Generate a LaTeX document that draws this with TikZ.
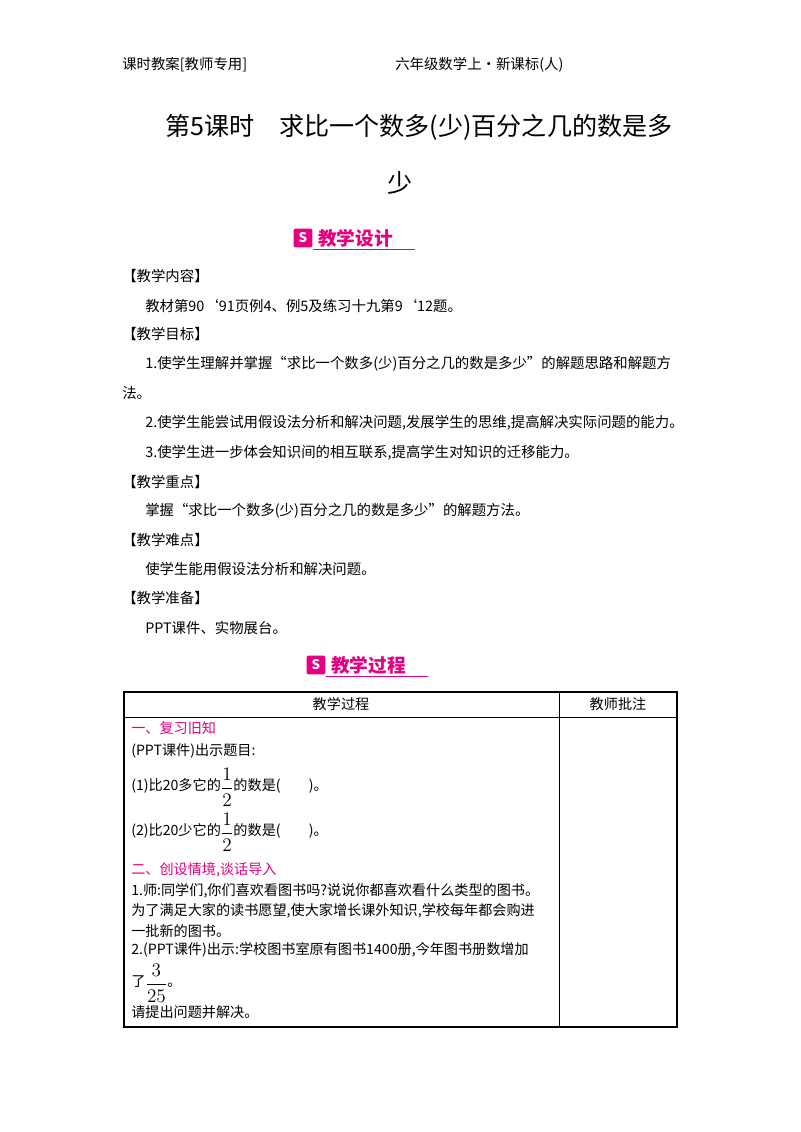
\documentclass[tikz,border=0pt]{standalone}
\usepackage{fontspec}
\setmainfont{Noto Sans CJK SC}
\definecolor{mag}{HTML}{E4007F}
\newcommand{\bigfr}[2]{$\vcenter{\hbox{\fontsize{14}{16}\selectfont$\displaystyle\frac{#1}{#2}$}}$}
\begin{document}
\begin{tikzpicture}[x=0.75pt,y=-0.75pt,
 t/.style={anchor=west,inner sep=0pt,font=\fontsize{10.8}{13}\selectfont},
 s/.style={anchor=west,inner sep=0pt,font=\fontsize{10.6}{12}\selectfont},
 m/.style={s,text=mag},
 ban/.style={anchor=west,inner sep=0pt,font=\fontsize{14}{16}\selectfont\bfseries,text=mag}]
\useasboundingbox[fill=white] (0,0) rectangle (800,1132);
\node[t] (h1) at (122,65) {课时教案[教师专用]};
\node[t] (h2) at (395,65) {六年级数学上·新课标(人)};
\node[anchor=west,inner sep=0pt,font=\fontsize{18.8}{20}\selectfont] (ti) at (165,127) {第5课时\quad 求比一个数多(少)百分之几的数是多};
\node[inner sep=0pt,font=\fontsize{18.8}{20}\selectfont] (ti2) at (400,183) {少};
% banner 1
\node[fill=mag,minimum size=14pt,inner sep=0pt,rounded corners=1pt,text=white,font=\bfseries] (i1) at (303,238) {S};
\node[ban] (b1) at (318,238) {教学设计};
\draw[mag,line width=0.5pt] ([yshift=-1pt]i1.south east) -- ++(102,0) coordinate (b1e);
\node[t] (a1) at (122,276) {【教学内容】};
\node[t] (a2) at (145,306) {教材第90{\char"60}91页例4、例5及练习十九第9{\char"60}12题。};
\node[t] (a3) at (122,334) {【教学目标】};
\node[t] (a4) at (145,364) {1.使学生理解并掌握“求比一个数多(少)百分之几的数是多少”的解题思路和解题方};
\node[t] (a5) at (122,393) {法。};
\node[t] (a6) at (145,423) {2.使学生能尝试用假设法分析和解决问题,发展学生的思维,提高解决实际问题的能力。};
\node[t] (a7) at (145,453) {3.使学生进一步体会知识间的相互联系,提高学生对知识的迁移能力。};
\node[t] (a8) at (122,482) {【教学重点】};
\node[t] (a9) at (145,511) {掌握“求比一个数多(少)百分之几的数是多少”的解题方法。};
\node[t] (a10) at (122,540) {【教学难点】};
\node[t] (a11) at (145,569) {使学生能用假设法分析和解决问题。};
\node[t] (a12) at (122,598) {【教学准备】};
\node[t] (a13) at (145,628) {PPT课件、实物展台。};
% banner 2
\node[fill=mag,minimum size=14pt,inner sep=0pt,rounded corners=1pt,text=white,font=\bfseries] (i2) at (316,665) {S};
\node[ban] (b2) at (331,665) {教学过程};
\draw[mag,line width=0.5pt] ([yshift=-1pt]i2.south east) -- ++(102,0) coordinate (b2e);
% table
\draw[line width=0.8pt] (124,692) rectangle (677,1027);
\draw (124,717) -- (677,717);
\draw (559,692) -- (559,1027);
\node[s,anchor=center] (th1) at (341,704) {教学过程};
\node[s,anchor=center] (th2) at (618,704) {教师批注};
\node[m] (c1) at (131,728) {一、复习旧知};
\node[s] (c2) at (131,751) {(PPT课件)出示题目:};
\node[s] (c3) at (131,787) {(1)比20多它的\bigfr{1}{2}的数是(\qquad)。};
\node[s] (c4) at (131,832) {(2)比20少它的\bigfr{1}{2}的数是(\qquad)。};
\node[m] (c5) at (131,870) {二、创设情境,谈话导入};
\node[s] (c6) at (131,891) {1.师:同学们,你们喜欢看图书吗?说说你都喜欢看什么类型的图书。};
\node[s] (c7) at (131,911) {为了满足大家的读书愿望,使大家增长课外知识,学校每年都会购进};
\node[s] (c8) at (131,931) {一批新的图书。};
\node[s] (c9) at (131,950) {2.(PPT课件)出示:学校图书室原有图书1400册,今年图书册数增加};
\node[s] (c10) at (131,983) {了\bigfr{3}{25}。};
\node[s] (c11) at (131,1012) {请提出问题并解决。};
\end{tikzpicture}
\end{document}
